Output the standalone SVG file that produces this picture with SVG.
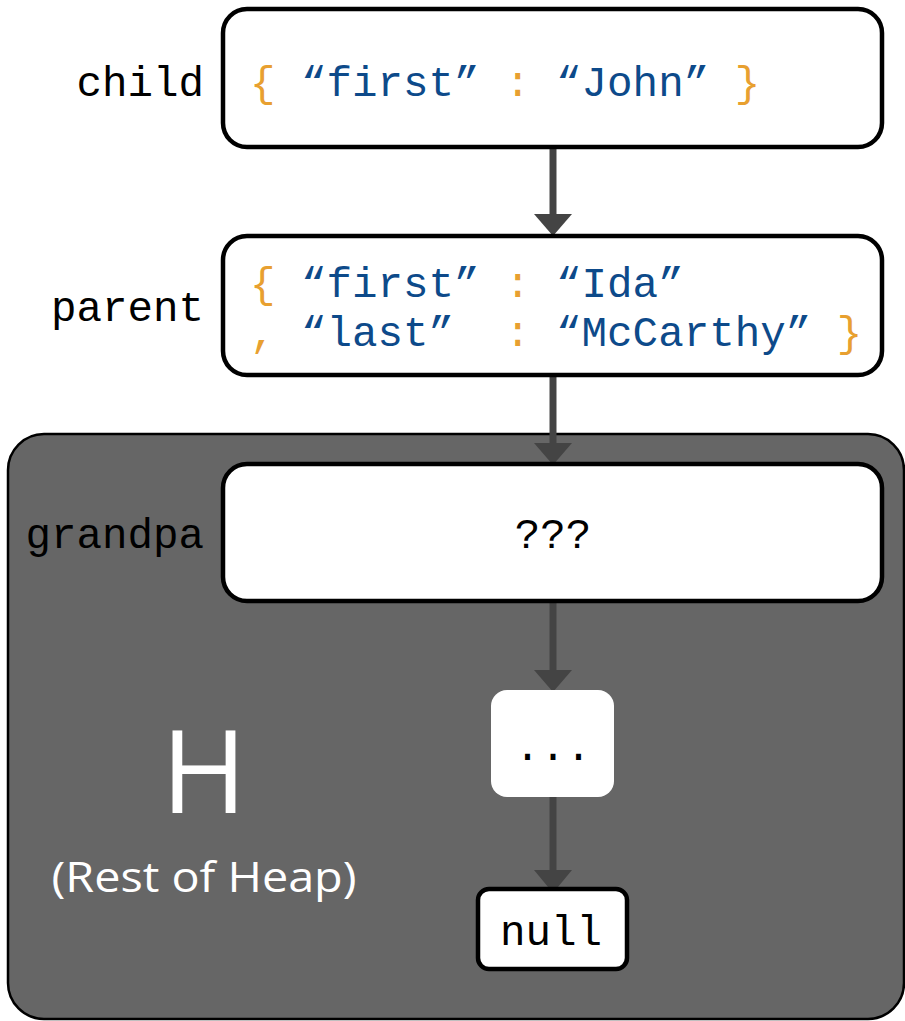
<svg xmlns="http://www.w3.org/2000/svg" width="905" height="1021" viewBox="0 0 905 1021">
  <style>
    .box { fill: #ffffff; stroke: #000000; stroke-width: 4.5; }
    .mono { font-family: "Liberation Mono", "DejaVu Sans Mono", monospace; font-size: 42.5px; }
    .lbl { fill: #000000; text-anchor: end; }
    .br { fill: #E8A030; }
    .str { fill: #0D4A8A; }
    .edge { stroke: #444444; stroke-width: 7; fill: none; }
    .head { fill: #444444; }
    .heapText { font-family: "Open Sans", "Liberation Sans", sans-serif; fill: #ffffff; text-anchor: middle; }
  </style>

  <!-- rest of heap region -->
  <g id="heap">
    <rect x="8" y="434" width="896" height="585" rx="36" ry="36" fill="#666666" stroke="#000000" stroke-width="2.5"/>
    <text class="heapText" x="204" y="813" font-size="116">H</text>
    <text class="heapText" x="204" y="892" font-size="42" textLength="305" lengthAdjust="spacingAndGlyphs">(Rest of Heap)</text>
  </g>

  <!-- connectors -->
  <g id="connectors">
    <line class="edge" x1="553" y1="148" x2="553" y2="216"/>
    <polygon class="head" points="534,214 572,214 553,236"/>
    <line class="edge" x1="553" y1="376" x2="553" y2="445"/>
    <polygon class="head" points="534,443 572,443 553,465"/>
    <line class="edge" x1="553" y1="602" x2="553" y2="672"/>
    <polygon class="head" points="534,670 572,670 553,692"/>
    <line class="edge" x1="553" y1="797" x2="553" y2="872"/>
    <polygon class="head" points="534,870 572,870 553,893"/>
  </g>

  <g id="child">
    <rect class="box" x="223" y="9" width="659" height="138" rx="24" ry="24"/>
    <text class="mono lbl" x="204" y="96">child</text>
    <text class="mono" x="250" y="96" xml:space="preserve"><tspan class="br">{</tspan> <tspan class="str">“first”</tspan> <tspan class="br">:</tspan> <tspan class="str">“John”</tspan> <tspan class="br">}</tspan></text>
  </g>

  <g id="parent">
    <rect class="box" x="223" y="236" width="659" height="139" rx="24" ry="24"/>
    <text class="mono lbl" x="204" y="321">parent</text>
    <text class="mono" x="250" y="297" xml:space="preserve"><tspan class="br">{</tspan> <tspan class="str">“first”</tspan> <tspan class="br">:</tspan> <tspan class="str">“Ida”</tspan></text>
    <text class="mono" x="250" y="346" xml:space="preserve"><tspan class="br">,</tspan> <tspan class="str">“last”</tspan>  <tspan class="br">:</tspan> <tspan class="str">“McCarthy”</tspan> <tspan class="br">}</tspan></text>
  </g>

  <g id="grandpa">
    <rect class="box" x="223" y="464" width="659" height="137" rx="24" ry="24"/>
    <text class="mono lbl" x="204" y="548">grandpa</text>
    <text class="mono" x="553" y="548" text-anchor="middle">???</text>
  </g>

  <g id="ellipsis">
    <rect x="491" y="690" width="123" height="107" rx="16" ry="16" fill="#ffffff"/>
    <text class="mono" x="553" y="760" text-anchor="middle">...</text>
  </g>

  <g id="null">
    <rect class="box" x="478" y="889" width="149" height="80" rx="11" ry="11"/>
    <text class="mono" x="551" y="945" text-anchor="middle" font-size="41">null</text>
  </g>
</svg>
